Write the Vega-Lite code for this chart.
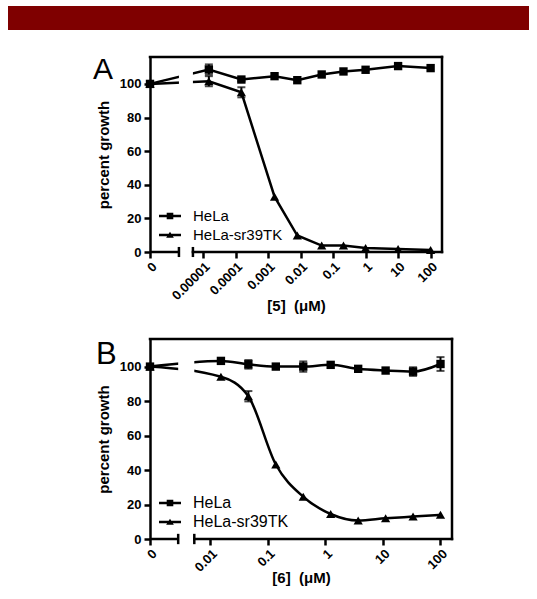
{
  "$schema": "https://vega.github.io/schema/vega-lite/v6.json",
  "padding": {"top": 6, "left": 8, "right": 8, "bottom": 0},
  "background": "white",
  "spacing": 24,
  "resolve": {"scale": {"shape": "independent", "x": "independent", "y": "independent"}, "legend": {"shape": "independent"}},
  "config": {
    "font": "Liberation Sans",
    "axis": {"domainColor": "black", "domainWidth": 2.5, "tickColor": "black", "tickWidth": 2.5, "tickSize": 6, "labelFont": "Liberation Sans", "labelFontWeight": "bold", "labelFontSize": 13, "labelColor": "black", "labelOverlap": false, "titleFont": "Liberation Sans", "titleFontWeight": "bold", "titleFontSize": 15, "titleColor": "black", "grid": false},
    "legend": {"labelFont": "Liberation Sans", "labelColor": "black", "padding": 0, "offset": 9, "rowPadding": 0, "labelOffset": 12, "symbolSize": 484, "symbolOpacity": 1, "symbolFillColor": "black", "symbolStrokeColor": "black", "symbolStrokeWidth": 0}
  },
  "datasets": {
    "a": [
      {"x": -6.63, "y": 100, "err": 0, "s": "HeLa"},
      {"x": -4.82, "y": 108.6, "err": 3, "s": "HeLa"},
      {"x": -3.82, "y": 102.6, "err": 1, "s": "HeLa"},
      {"x": -2.8, "y": 104.6, "err": 0, "s": "HeLa"},
      {"x": -2.1, "y": 102.2, "err": 0, "s": "HeLa"},
      {"x": -1.35, "y": 105.6, "err": 0, "s": "HeLa"},
      {"x": -0.68, "y": 107.4, "err": 0, "s": "HeLa"},
      {"x": 0, "y": 108.4, "err": 0, "s": "HeLa"},
      {"x": 1, "y": 110.6, "err": 0, "s": "HeLa"},
      {"x": 2, "y": 109.4, "err": 0, "s": "HeLa"},
      {"x": -6.63, "y": 100, "err": 0, "s": "HeLa-sr39TK"},
      {"x": -4.82, "y": 101.6, "err": 3, "s": "HeLa-sr39TK"},
      {"x": -3.82, "y": 95, "err": 3, "s": "HeLa-sr39TK"},
      {"x": -2.8, "y": 32.9, "err": 0, "s": "HeLa-sr39TK"},
      {"x": -2.1, "y": 9.8, "err": 0, "s": "HeLa-sr39TK"},
      {"x": -1.35, "y": 3.8, "err": 0, "s": "HeLa-sr39TK"},
      {"x": -0.68, "y": 3.8, "err": 0, "s": "HeLa-sr39TK"},
      {"x": 0, "y": 2.4, "err": 0, "s": "HeLa-sr39TK"},
      {"x": 1, "y": 1.8, "err": 0, "s": "HeLa-sr39TK"},
      {"x": 2, "y": 1.2, "err": 0, "s": "HeLa-sr39TK"}
    ],
    "b": [
      {"x": -3.05, "y": 100, "err": 0, "s": "HeLa"},
      {"x": -1.817, "y": 103.3, "err": 0, "s": "HeLa"},
      {"x": -1.34, "y": 101.3, "err": 2.5, "s": "HeLa"},
      {"x": -0.863, "y": 100, "err": 0, "s": "HeLa"},
      {"x": -0.386, "y": 100, "err": 3, "s": "HeLa"},
      {"x": 0.091, "y": 101, "err": 0, "s": "HeLa"},
      {"x": 0.569, "y": 98.7, "err": 0, "s": "HeLa"},
      {"x": 1.046, "y": 97.7, "err": 0, "s": "HeLa"},
      {"x": 1.523, "y": 97.1, "err": 2.5, "s": "HeLa"},
      {"x": 2.0, "y": 101.5, "err": 4, "s": "HeLa"},
      {"x": -3.05, "y": 100, "err": 0, "s": "HeLa-sr39TK"},
      {"x": -1.817, "y": 94.1, "err": 0, "s": "HeLa-sr39TK"},
      {"x": -1.34, "y": 82.8, "err": 3, "s": "HeLa-sr39TK"},
      {"x": -0.863, "y": 43.2, "err": 0, "s": "HeLa-sr39TK"},
      {"x": -0.386, "y": 24.5, "err": 0, "s": "HeLa-sr39TK"},
      {"x": 0.091, "y": 14.5, "err": 0, "s": "HeLa-sr39TK"},
      {"x": 0.569, "y": 10.7, "err": 0, "s": "HeLa-sr39TK"},
      {"x": 1.046, "y": 12, "err": 0, "s": "HeLa-sr39TK"},
      {"x": 1.523, "y": 13, "err": 0, "s": "HeLa-sr39TK"},
      {"x": 2.0, "y": 14, "err": 0, "s": "HeLa-sr39TK"}
    ]
  },
  "vconcat": [
    {
      "width": 521, "height": 24,
      "view": {"stroke": null, "fill": "#7f0000"},
      "data": {"values": [{}]},
      "mark": {"type": "rect", "color": "#7f0000"}
    },
    {
      "spacing": 0,
      "resolve": {"scale": {"shape": "independent", "x": "independent", "y": "independent"}, "legend": {"shape": "independent"}},
      "hconcat": [
        {
          "width": 85, "height": 10,
          "view": {"stroke": null},
          "data": {"values": [{}]},
          "mark": {"type": "text", "text": ""}
        },
        {
          "spacing": 23,
          "resolve": {"scale": {"shape": "independent", "x": "independent", "y": "independent"}, "legend": {"shape": "independent"}},
          "vconcat": [
            {
              "width": 292, "height": 195,
              "view": {"stroke": null},
              "layer": [
                {
                  "data": {"name": "a"},
                  "mark": {"type": "line", "color": "black", "strokeWidth": 2.5, "interpolate": "linear"},
                  "encoding": {
                    "x": {"field": "x", "type": "quantitative", "scale": {"domain": [-6.63, 2.35], "nice": false, "zero": false}, "axis": {"title": "[5]\u00a0 (μM)", "values": [-6.63, -5, -4, -3, -2, -1, 0, 1, 2], "labelExpr": "datum.value < -6 ? '0' : format(pow(10, datum.value), '.5~f')", "labelAngle": -45, "labelFlush": false, "labelOverlap": false, "domain": false, "titlePadding": -4}},
                    "y": {"field": "y", "type": "quantitative", "scale": {"domain": [0, 116], "nice": false, "zero": false}, "axis": {"title": "percent growth", "values": [0, 20, 40, 60, 80, 100], "labelOverlap": false, "titlePadding": 8, "labelPadding": 3}},
                    "detail": {"field": "s"}
                  }
                },
                {
                  "data": {"name": "a"},
                  "transform": [{"filter": "datum.err > 0"}],
                  "mark": {"type": "errorbar", "ticks": true, "size": 8, "thickness": 2, "color": "black"},
                  "encoding": {
                    "x": {"field": "x", "type": "quantitative", "scale": {"domain": [-6.63, 2.35], "nice": false, "zero": false}, "axis": {"title": "[5]\u00a0 (μM)", "values": [-6.63, -5, -4, -3, -2, -1, 0, 1, 2], "labelExpr": "datum.value < -6 ? '0' : format(pow(10, datum.value), '.5~f')", "labelAngle": -45, "labelFlush": false, "labelOverlap": false, "domain": false, "titlePadding": -4}},
                    "y": {"field": "y", "type": "quantitative", "scale": {"domain": [0, 116], "nice": false, "zero": false}, "axis": {"title": "percent growth", "values": [0, 20, 40, 60, 80, 100], "labelOverlap": false, "titlePadding": 8, "labelPadding": 3}},
                    "yError": {"field": "err"}
                  }
                },
                {
                  "data": {"values": [{}]},
                  "mark": {"type": "rect", "color": "white"},
                  "encoding": {
                    "x": {"datum": -5.74, "type": "quantitative", "scale": {"domain": [-6.63, 2.35], "nice": false, "zero": false}, "axis": {"title": "[5]\u00a0 (μM)", "values": [-6.63, -5, -4, -3, -2, -1, 0, 1, 2], "labelExpr": "datum.value < -6 ? '0' : format(pow(10, datum.value), '.5~f')", "labelAngle": -45, "labelFlush": false, "labelOverlap": false, "domain": false, "titlePadding": -4}},
                    "x2": {"datum": -5.31},
                    "y": {"datum": 50, "type": "quantitative", "scale": {"domain": [0, 116], "nice": false, "zero": false}, "axis": {"title": "percent growth", "values": [0, 20, 40, 60, 80, 100], "labelOverlap": false, "titlePadding": 8, "labelPadding": 3}},
                    "y2": {"datum": 114}
                  }
                },
                {
                  "data": {"name": "a"},
                  "transform": [{"filter": "datum.s === 'HeLa'"}],
                  "mark": {"type": "point", "filled": true, "color": "black", "opacity": 1, "size": 70, "shape": "square"},
                  "encoding": {
                    "x": {"field": "x", "type": "quantitative", "scale": {"domain": [-6.63, 2.35], "nice": false, "zero": false}, "axis": {"title": "[5]\u00a0 (μM)", "values": [-6.63, -5, -4, -3, -2, -1, 0, 1, 2], "labelExpr": "datum.value < -6 ? '0' : format(pow(10, datum.value), '.5~f')", "labelAngle": -45, "labelFlush": false, "labelOverlap": false, "domain": false, "titlePadding": -4}},
                    "y": {"field": "y", "type": "quantitative", "scale": {"domain": [0, 116], "nice": false, "zero": false}, "axis": {"title": "percent growth", "values": [0, 20, 40, 60, 80, 100], "labelOverlap": false, "titlePadding": 8, "labelPadding": 3}}
                  }
                },
                {
                  "data": {"name": "a"},
                  "transform": [{"filter": "datum.s !== 'HeLa'"}],
                  "mark": {"type": "point", "filled": true, "color": "black", "opacity": 1, "size": 85, "shape": "triangle-up"},
                  "encoding": {
                    "x": {"field": "x", "type": "quantitative", "scale": {"domain": [-6.63, 2.35], "nice": false, "zero": false}, "axis": {"title": "[5]\u00a0 (μM)", "values": [-6.63, -5, -4, -3, -2, -1, 0, 1, 2], "labelExpr": "datum.value < -6 ? '0' : format(pow(10, datum.value), '.5~f')", "labelAngle": -45, "labelFlush": false, "labelOverlap": false, "domain": false, "titlePadding": -4}},
                    "y": {"field": "y", "type": "quantitative", "scale": {"domain": [0, 116], "nice": false, "zero": false}, "axis": {"title": "percent growth", "values": [0, 20, 40, 60, 80, 100], "labelOverlap": false, "titlePadding": 8, "labelPadding": 3}}
                  }
                },
                {
                  "data": {"name": "a"},
                  "mark": {"type": "point", "filled": true, "color": "black", "opacity": 0},
                  "encoding": {
                    "x": {"field": "x", "type": "quantitative", "scale": {"domain": [-6.63, 2.35], "nice": false, "zero": false}, "axis": {"title": "[5]\u00a0 (μM)", "values": [-6.63, -5, -4, -3, -2, -1, 0, 1, 2], "labelExpr": "datum.value < -6 ? '0' : format(pow(10, datum.value), '.5~f')", "labelAngle": -45, "labelFlush": false, "labelOverlap": false, "domain": false, "titlePadding": -4}},
                    "y": {"field": "y", "type": "quantitative", "scale": {"domain": [0, 116], "nice": false, "zero": false}, "axis": {"title": "percent growth", "values": [0, 20, 40, 60, 80, 100], "labelOverlap": false, "titlePadding": 8, "labelPadding": 3}},
                    "shape": {"field": "s", "type": "nominal", "scale": {"domain": ["HeLa", "HeLa-sr39TK"], "range": ["M-1,-0.11H1V0.11H-1ZM-0.3,-0.3H0.3V0.3H-0.3Z", "M-1,-0.11H1V0.11H-1ZM0,-0.3L0.35,0.24H-0.35Z"]},
                      "legend": {"title": null, "orient": "bottom-left", "labelFontSize": 15}}
                  }
                },
                {
                  "data": {"values": [{}]},
                  "mark": {"type": "rule", "color": "black", "strokeWidth": 2.5, "strokeCap": "square"},
                  "encoding": {
                    "x": {"datum": -6.63, "type": "quantitative", "scale": {"domain": [-6.63, 2.35], "nice": false, "zero": false}, "axis": {"title": "[5]\u00a0 (μM)", "values": [-6.63, -5, -4, -3, -2, -1, 0, 1, 2], "labelExpr": "datum.value < -6 ? '0' : format(pow(10, datum.value), '.5~f')", "labelAngle": -45, "labelFlush": false, "labelOverlap": false, "domain": false, "titlePadding": -4}},
                    "x2": {"datum": 2.35},
                    "y": {"datum": 116, "type": "quantitative", "scale": {"domain": [0, 116], "nice": false, "zero": false}, "axis": {"title": "percent growth", "values": [0, 20, 40, 60, 80, 100], "labelOverlap": false, "titlePadding": 8, "labelPadding": 3}}
                  }
                },
                {
                  "data": {"values": [{}]},
                  "mark": {"type": "rule", "color": "black", "strokeWidth": 2.5, "strokeCap": "square"},
                  "encoding": {
                    "x": {"datum": 2.35, "type": "quantitative", "scale": {"domain": [-6.63, 2.35], "nice": false, "zero": false}, "axis": {"title": "[5]\u00a0 (μM)", "values": [-6.63, -5, -4, -3, -2, -1, 0, 1, 2], "labelExpr": "datum.value < -6 ? '0' : format(pow(10, datum.value), '.5~f')", "labelAngle": -45, "labelFlush": false, "labelOverlap": false, "domain": false, "titlePadding": -4}},
                    "y": {"datum": 0, "type": "quantitative", "scale": {"domain": [0, 116], "nice": false, "zero": false}, "axis": {"title": "percent growth", "values": [0, 20, 40, 60, 80, 100], "labelOverlap": false, "titlePadding": 8, "labelPadding": 3}},
                    "y2": {"datum": 116}
                  }
                },
                {
                  "data": {"values": [{}]},
                  "mark": {"type": "rule", "color": "black", "strokeWidth": 2.5},
                  "encoding": {
                    "x": {"datum": -6.63, "type": "quantitative", "scale": {"domain": [-6.63, 2.35], "nice": false, "zero": false}, "axis": {"title": "[5]\u00a0 (μM)", "values": [-6.63, -5, -4, -3, -2, -1, 0, 1, 2], "labelExpr": "datum.value < -6 ? '0' : format(pow(10, datum.value), '.5~f')", "labelAngle": -45, "labelFlush": false, "labelOverlap": false, "domain": false, "titlePadding": -4}},
                    "x2": {"datum": -5.74},
                    "y": {"datum": 0, "type": "quantitative", "scale": {"domain": [0, 116], "nice": false, "zero": false}, "axis": {"title": "percent growth", "values": [0, 20, 40, 60, 80, 100], "labelOverlap": false, "titlePadding": 8, "labelPadding": 3}}
                  }
                },
                {
                  "data": {"values": [{}]},
                  "mark": {"type": "rule", "color": "black", "strokeWidth": 2.5, "strokeCap": "square"},
                  "encoding": {
                    "x": {"datum": -5.31, "type": "quantitative", "scale": {"domain": [-6.63, 2.35], "nice": false, "zero": false}, "axis": {"title": "[5]\u00a0 (μM)", "values": [-6.63, -5, -4, -3, -2, -1, 0, 1, 2], "labelExpr": "datum.value < -6 ? '0' : format(pow(10, datum.value), '.5~f')", "labelAngle": -45, "labelFlush": false, "labelOverlap": false, "domain": false, "titlePadding": -4}},
                    "x2": {"datum": 2.35},
                    "y": {"datum": 0, "type": "quantitative", "scale": {"domain": [0, 116], "nice": false, "zero": false}, "axis": {"title": "percent growth", "values": [0, 20, 40, 60, 80, 100], "labelOverlap": false, "titlePadding": 8, "labelPadding": 3}}
                  }
                },
                {
                  "data": {"values": [{}]},
                  "mark": {"type": "rule", "color": "black", "strokeWidth": 2.5},
                  "encoding": {
                    "x": {"datum": -5.74, "type": "quantitative", "scale": {"domain": [-6.63, 2.35], "nice": false, "zero": false}, "axis": {"title": "[5]\u00a0 (μM)", "values": [-6.63, -5, -4, -3, -2, -1, 0, 1, 2], "labelExpr": "datum.value < -6 ? '0' : format(pow(10, datum.value), '.5~f')", "labelAngle": -45, "labelFlush": false, "labelOverlap": false, "domain": false, "titlePadding": -4}},
                    "y": {"datum": -3, "type": "quantitative", "scale": {"domain": [0, 116], "nice": false, "zero": false}, "axis": {"title": "percent growth", "values": [0, 20, 40, 60, 80, 100], "labelOverlap": false, "titlePadding": 8, "labelPadding": 3}},
                    "y2": {"datum": 3}
                  }
                },
                {
                  "data": {"values": [{}]},
                  "mark": {"type": "rule", "color": "black", "strokeWidth": 2.5},
                  "encoding": {
                    "x": {"datum": -5.31, "type": "quantitative", "scale": {"domain": [-6.63, 2.35], "nice": false, "zero": false}, "axis": {"title": "[5]\u00a0 (μM)", "values": [-6.63, -5, -4, -3, -2, -1, 0, 1, 2], "labelExpr": "datum.value < -6 ? '0' : format(pow(10, datum.value), '.5~f')", "labelAngle": -45, "labelFlush": false, "labelOverlap": false, "domain": false, "titlePadding": -4}},
                    "y": {"datum": -3, "type": "quantitative", "scale": {"domain": [0, 116], "nice": false, "zero": false}, "axis": {"title": "percent growth", "values": [0, 20, 40, 60, 80, 100], "labelOverlap": false, "titlePadding": 8, "labelPadding": 3}},
                    "y2": {"datum": 3}
                  }
                },
                {
                  "data": {"values": [{}]},
                  "mark": {"type": "text", "text": "A", "fontSize": 30, "font": "Liberation Sans", "align": "left", "baseline": "alphabetic", "color": "black"},
                  "encoding": {
                    "x": {"datum": -8.38, "type": "quantitative", "scale": {"domain": [-6.63, 2.35], "nice": false, "zero": false}, "axis": {"title": "[5]\u00a0 (μM)", "values": [-6.63, -5, -4, -3, -2, -1, 0, 1, 2], "labelExpr": "datum.value < -6 ? '0' : format(pow(10, datum.value), '.5~f')", "labelAngle": -45, "labelFlush": false, "labelOverlap": false, "domain": false, "titlePadding": -4}},
                    "y": {"datum": 103.2, "type": "quantitative", "scale": {"domain": [0, 116], "nice": false, "zero": false}, "axis": {"title": "percent growth", "values": [0, 20, 40, 60, 80, 100], "labelOverlap": false, "titlePadding": 8, "labelPadding": 3}}
                  }
                }
              ]
            },
            {
              "width": 302, "height": 200,
              "view": {"stroke": null},
              "layer": [
                {
                  "data": {"name": "b"},
                  "mark": {"type": "line", "color": "black", "strokeWidth": 2.5, "interpolate": "monotone"},
                  "encoding": {
                    "x": {"field": "x", "type": "quantitative", "scale": {"domain": [-3.05, 2.2], "nice": false, "zero": false}, "axis": {"title": "[6]\u00a0 (μM)", "values": [-3.05, -2, -1, 0, 1, 2], "labelExpr": "datum.value < -2.5 ? '0' : format(pow(10, datum.value), '.5~f')", "labelAngle": -45, "labelFlush": false, "labelOverlap": false, "domain": false, "titlePadding": -4}},
                    "y": {"field": "y", "type": "quantitative", "scale": {"domain": [0, 116], "nice": false, "zero": false}, "axis": {"title": "percent growth", "values": [0, 20, 40, 60, 80, 100], "labelOverlap": false, "titlePadding": 8, "labelPadding": 3}},
                    "detail": {"field": "s"}
                  }
                },
                {
                  "data": {"name": "b"},
                  "transform": [{"filter": "datum.err > 0"}],
                  "mark": {"type": "errorbar", "ticks": true, "size": 8, "thickness": 2, "color": "black"},
                  "encoding": {
                    "x": {"field": "x", "type": "quantitative", "scale": {"domain": [-3.05, 2.2], "nice": false, "zero": false}, "axis": {"title": "[6]\u00a0 (μM)", "values": [-3.05, -2, -1, 0, 1, 2], "labelExpr": "datum.value < -2.5 ? '0' : format(pow(10, datum.value), '.5~f')", "labelAngle": -45, "labelFlush": false, "labelOverlap": false, "domain": false, "titlePadding": -4}},
                    "y": {"field": "y", "type": "quantitative", "scale": {"domain": [0, 116], "nice": false, "zero": false}, "axis": {"title": "percent growth", "values": [0, 20, 40, 60, 80, 100], "labelOverlap": false, "titlePadding": 8, "labelPadding": 3}},
                    "yError": {"field": "err"}
                  }
                },
                {
                  "data": {"values": [{}]},
                  "mark": {"type": "rect", "color": "white"},
                  "encoding": {
                    "x": {"datum": -2.56, "type": "quantitative", "scale": {"domain": [-3.05, 2.2], "nice": false, "zero": false}, "axis": {"title": "[6]\u00a0 (μM)", "values": [-3.05, -2, -1, 0, 1, 2], "labelExpr": "datum.value < -2.5 ? '0' : format(pow(10, datum.value), '.5~f')", "labelAngle": -45, "labelFlush": false, "labelOverlap": false, "domain": false, "titlePadding": -4}},
                    "x2": {"datum": -2.28},
                    "y": {"datum": 50, "type": "quantitative", "scale": {"domain": [0, 116], "nice": false, "zero": false}, "axis": {"title": "percent growth", "values": [0, 20, 40, 60, 80, 100], "labelOverlap": false, "titlePadding": 8, "labelPadding": 3}},
                    "y2": {"datum": 114}
                  }
                },
                {
                  "data": {"name": "b"},
                  "transform": [{"filter": "datum.s === 'HeLa'"}],
                  "mark": {"type": "point", "filled": true, "color": "black", "opacity": 1, "size": 70, "shape": "square"},
                  "encoding": {
                    "x": {"field": "x", "type": "quantitative", "scale": {"domain": [-3.05, 2.2], "nice": false, "zero": false}, "axis": {"title": "[6]\u00a0 (μM)", "values": [-3.05, -2, -1, 0, 1, 2], "labelExpr": "datum.value < -2.5 ? '0' : format(pow(10, datum.value), '.5~f')", "labelAngle": -45, "labelFlush": false, "labelOverlap": false, "domain": false, "titlePadding": -4}},
                    "y": {"field": "y", "type": "quantitative", "scale": {"domain": [0, 116], "nice": false, "zero": false}, "axis": {"title": "percent growth", "values": [0, 20, 40, 60, 80, 100], "labelOverlap": false, "titlePadding": 8, "labelPadding": 3}}
                  }
                },
                {
                  "data": {"name": "b"},
                  "transform": [{"filter": "datum.s !== 'HeLa'"}],
                  "mark": {"type": "point", "filled": true, "color": "black", "opacity": 1, "size": 85, "shape": "triangle-up"},
                  "encoding": {
                    "x": {"field": "x", "type": "quantitative", "scale": {"domain": [-3.05, 2.2], "nice": false, "zero": false}, "axis": {"title": "[6]\u00a0 (μM)", "values": [-3.05, -2, -1, 0, 1, 2], "labelExpr": "datum.value < -2.5 ? '0' : format(pow(10, datum.value), '.5~f')", "labelAngle": -45, "labelFlush": false, "labelOverlap": false, "domain": false, "titlePadding": -4}},
                    "y": {"field": "y", "type": "quantitative", "scale": {"domain": [0, 116], "nice": false, "zero": false}, "axis": {"title": "percent growth", "values": [0, 20, 40, 60, 80, 100], "labelOverlap": false, "titlePadding": 8, "labelPadding": 3}}
                  }
                },
                {
                  "data": {"name": "b"},
                  "mark": {"type": "point", "filled": true, "color": "black", "opacity": 0},
                  "encoding": {
                    "x": {"field": "x", "type": "quantitative", "scale": {"domain": [-3.05, 2.2], "nice": false, "zero": false}, "axis": {"title": "[6]\u00a0 (μM)", "values": [-3.05, -2, -1, 0, 1, 2], "labelExpr": "datum.value < -2.5 ? '0' : format(pow(10, datum.value), '.5~f')", "labelAngle": -45, "labelFlush": false, "labelOverlap": false, "domain": false, "titlePadding": -4}},
                    "y": {"field": "y", "type": "quantitative", "scale": {"domain": [0, 116], "nice": false, "zero": false}, "axis": {"title": "percent growth", "values": [0, 20, 40, 60, 80, 100], "labelOverlap": false, "titlePadding": 8, "labelPadding": 3}},
                    "shape": {"field": "s", "type": "nominal", "scale": {"domain": ["HeLa", "HeLa-sr39TK"], "range": ["M-1,-0.11H1V0.11H-1ZM-0.3,-0.3H0.3V0.3H-0.3Z", "M-1,-0.11H1V0.11H-1ZM0,-0.3L0.35,0.24H-0.35Z"]},
                      "legend": {"title": null, "orient": "bottom-left", "labelFontSize": 16}}
                  }
                },
                {
                  "data": {"values": [{}]},
                  "mark": {"type": "rule", "color": "black", "strokeWidth": 2.5, "strokeCap": "square"},
                  "encoding": {
                    "x": {"datum": -3.05, "type": "quantitative", "scale": {"domain": [-3.05, 2.2], "nice": false, "zero": false}, "axis": {"title": "[6]\u00a0 (μM)", "values": [-3.05, -2, -1, 0, 1, 2], "labelExpr": "datum.value < -2.5 ? '0' : format(pow(10, datum.value), '.5~f')", "labelAngle": -45, "labelFlush": false, "labelOverlap": false, "domain": false, "titlePadding": -4}},
                    "x2": {"datum": 2.2},
                    "y": {"datum": 116, "type": "quantitative", "scale": {"domain": [0, 116], "nice": false, "zero": false}, "axis": {"title": "percent growth", "values": [0, 20, 40, 60, 80, 100], "labelOverlap": false, "titlePadding": 8, "labelPadding": 3}}
                  }
                },
                {
                  "data": {"values": [{}]},
                  "mark": {"type": "rule", "color": "black", "strokeWidth": 2.5, "strokeCap": "square"},
                  "encoding": {
                    "x": {"datum": 2.2, "type": "quantitative", "scale": {"domain": [-3.05, 2.2], "nice": false, "zero": false}, "axis": {"title": "[6]\u00a0 (μM)", "values": [-3.05, -2, -1, 0, 1, 2], "labelExpr": "datum.value < -2.5 ? '0' : format(pow(10, datum.value), '.5~f')", "labelAngle": -45, "labelFlush": false, "labelOverlap": false, "domain": false, "titlePadding": -4}},
                    "y": {"datum": 0, "type": "quantitative", "scale": {"domain": [0, 116], "nice": false, "zero": false}, "axis": {"title": "percent growth", "values": [0, 20, 40, 60, 80, 100], "labelOverlap": false, "titlePadding": 8, "labelPadding": 3}},
                    "y2": {"datum": 116}
                  }
                },
                {
                  "data": {"values": [{}]},
                  "mark": {"type": "rule", "color": "black", "strokeWidth": 2.5},
                  "encoding": {
                    "x": {"datum": -3.05, "type": "quantitative", "scale": {"domain": [-3.05, 2.2], "nice": false, "zero": false}, "axis": {"title": "[6]\u00a0 (μM)", "values": [-3.05, -2, -1, 0, 1, 2], "labelExpr": "datum.value < -2.5 ? '0' : format(pow(10, datum.value), '.5~f')", "labelAngle": -45, "labelFlush": false, "labelOverlap": false, "domain": false, "titlePadding": -4}},
                    "x2": {"datum": -2.56},
                    "y": {"datum": 0, "type": "quantitative", "scale": {"domain": [0, 116], "nice": false, "zero": false}, "axis": {"title": "percent growth", "values": [0, 20, 40, 60, 80, 100], "labelOverlap": false, "titlePadding": 8, "labelPadding": 3}}
                  }
                },
                {
                  "data": {"values": [{}]},
                  "mark": {"type": "rule", "color": "black", "strokeWidth": 2.5, "strokeCap": "square"},
                  "encoding": {
                    "x": {"datum": -2.28, "type": "quantitative", "scale": {"domain": [-3.05, 2.2], "nice": false, "zero": false}, "axis": {"title": "[6]\u00a0 (μM)", "values": [-3.05, -2, -1, 0, 1, 2], "labelExpr": "datum.value < -2.5 ? '0' : format(pow(10, datum.value), '.5~f')", "labelAngle": -45, "labelFlush": false, "labelOverlap": false, "domain": false, "titlePadding": -4}},
                    "x2": {"datum": 2.2},
                    "y": {"datum": 0, "type": "quantitative", "scale": {"domain": [0, 116], "nice": false, "zero": false}, "axis": {"title": "percent growth", "values": [0, 20, 40, 60, 80, 100], "labelOverlap": false, "titlePadding": 8, "labelPadding": 3}}
                  }
                },
                {
                  "data": {"values": [{}]},
                  "mark": {"type": "rule", "color": "black", "strokeWidth": 2.5},
                  "encoding": {
                    "x": {"datum": -2.56, "type": "quantitative", "scale": {"domain": [-3.05, 2.2], "nice": false, "zero": false}, "axis": {"title": "[6]\u00a0 (μM)", "values": [-3.05, -2, -1, 0, 1, 2], "labelExpr": "datum.value < -2.5 ? '0' : format(pow(10, datum.value), '.5~f')", "labelAngle": -45, "labelFlush": false, "labelOverlap": false, "domain": false, "titlePadding": -4}},
                    "y": {"datum": -3, "type": "quantitative", "scale": {"domain": [0, 116], "nice": false, "zero": false}, "axis": {"title": "percent growth", "values": [0, 20, 40, 60, 80, 100], "labelOverlap": false, "titlePadding": 8, "labelPadding": 3}},
                    "y2": {"datum": 3}
                  }
                },
                {
                  "data": {"values": [{}]},
                  "mark": {"type": "rule", "color": "black", "strokeWidth": 2.5},
                  "encoding": {
                    "x": {"datum": -2.28, "type": "quantitative", "scale": {"domain": [-3.05, 2.2], "nice": false, "zero": false}, "axis": {"title": "[6]\u00a0 (μM)", "values": [-3.05, -2, -1, 0, 1, 2], "labelExpr": "datum.value < -2.5 ? '0' : format(pow(10, datum.value), '.5~f')", "labelAngle": -45, "labelFlush": false, "labelOverlap": false, "domain": false, "titlePadding": -4}},
                    "y": {"datum": -3, "type": "quantitative", "scale": {"domain": [0, 116], "nice": false, "zero": false}, "axis": {"title": "percent growth", "values": [0, 20, 40, 60, 80, 100], "labelOverlap": false, "titlePadding": 8, "labelPadding": 3}},
                    "y2": {"datum": 3}
                  }
                },
                {
                  "data": {"values": [{}]},
                  "mark": {"type": "text", "text": "B", "fontSize": 31, "font": "Liberation Sans", "align": "left", "baseline": "alphabetic", "color": "black"},
                  "encoding": {
                    "x": {"datum": -3.99, "type": "quantitative", "scale": {"domain": [-3.05, 2.2], "nice": false, "zero": false}, "axis": {"title": "[6]\u00a0 (μM)", "values": [-3.05, -2, -1, 0, 1, 2], "labelExpr": "datum.value < -2.5 ? '0' : format(pow(10, datum.value), '.5~f')", "labelAngle": -45, "labelFlush": false, "labelOverlap": false, "domain": false, "titlePadding": -4}},
                    "y": {"datum": 101.7, "type": "quantitative", "scale": {"domain": [0, 116], "nice": false, "zero": false}, "axis": {"title": "percent growth", "values": [0, 20, 40, 60, 80, 100], "labelOverlap": false, "titlePadding": 8, "labelPadding": 3}}
                  }
                }
              ]
            }
          ]
        }
      ]
    }
  ]
}
